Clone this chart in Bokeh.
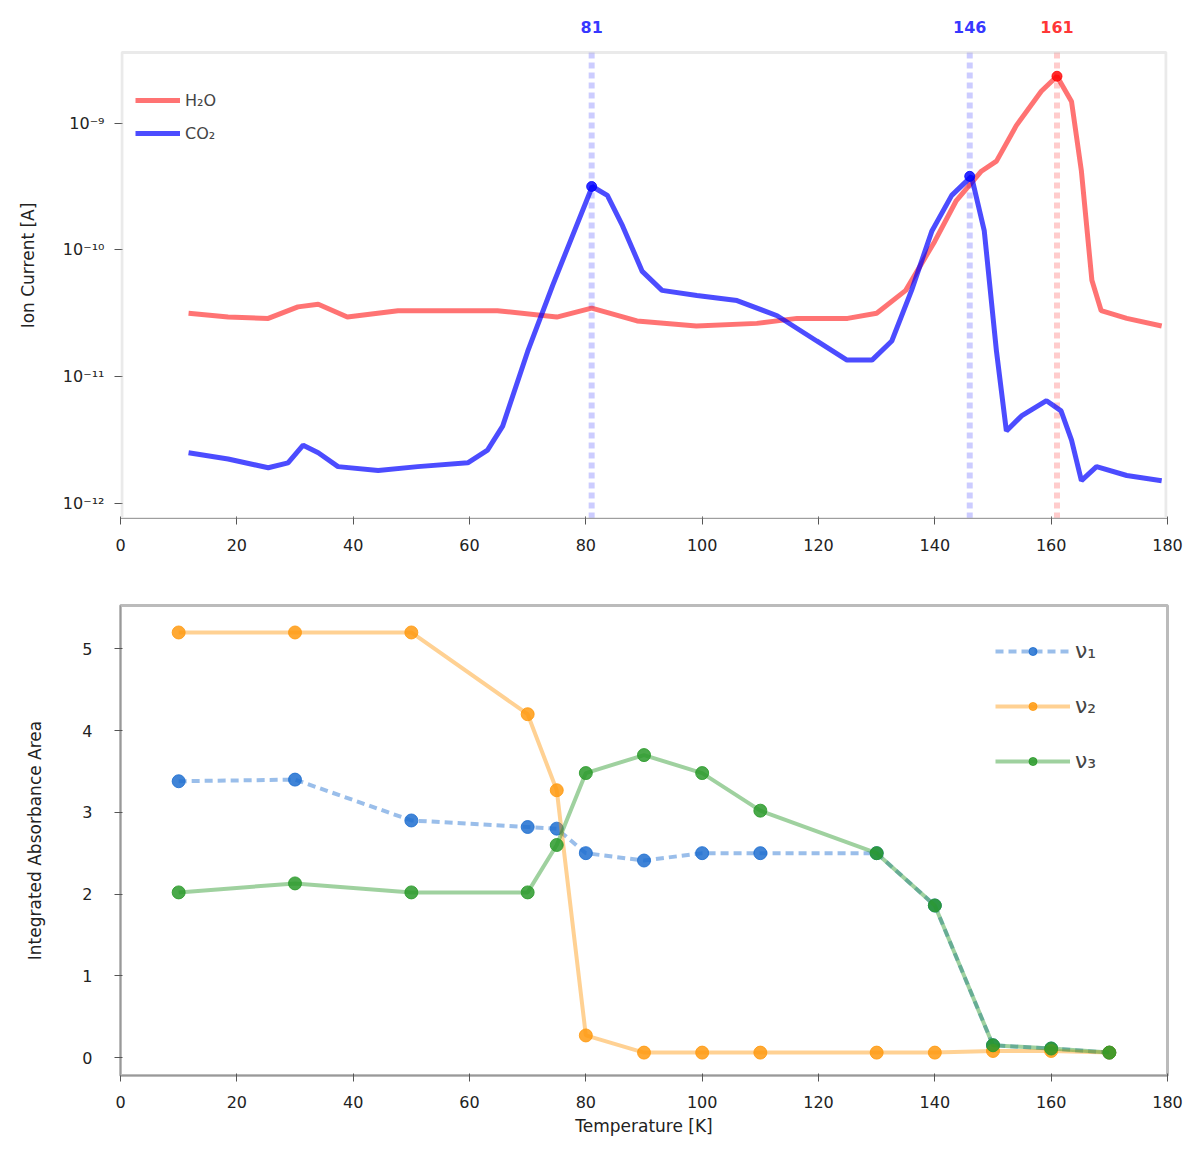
from bokeh.plotting import figure
from bokeh.layouts import column
from bokeh.models import (FixedTicker, CustomJSTickFormatter, Range1d, Legend, LegendItem,
                          BoxAnnotation, ColumnDataSource)
from bokeh.core.properties import value
from bokeh.embed import file_html
from bokeh.resources import INLINE

# ---------------- top panel data (TPD) ----------------
T_h2o = [11.7, 18.5, 25.4, 30.5, 34.0, 39.0, 47.7, 64.8, 75.0, 81.0, 88.8, 99.0, 109.4, 116.3,
         125.0, 130.0, 135.0, 140.0, 143.7, 148.0, 150.6, 154.0, 158.3, 161.0, 163.5, 165.2,
         167.0, 168.6, 173.0, 179.0]
I_h2o = [3.16e-11, 2.95e-11, 2.88e-11, 3.55e-11, 3.72e-11, 2.95e-11, 3.31e-11, 3.31e-11, 2.95e-11,
         3.47e-11, 2.75e-11, 2.51e-11, 2.63e-11, 2.88e-11, 2.88e-11, 3.16e-11, 4.79e-11, 1.17e-10,
         2.45e-10, 4.17e-10, 5.01e-10, 9.55e-10, 1.78e-9, 2.34e-9, 1.48e-9, 4.17e-10, 5.75e-11,
         3.31e-11, 2.88e-11, 2.51e-11]

T_co2 = [11.7, 18.5, 25.4, 28.8, 31.4, 34.0, 37.4, 44.3, 51.1, 59.7, 63.1, 65.7, 70.0, 74.3, 77.7,
         81.1, 83.7, 86.3, 89.7, 93.1, 99.1, 106.0, 112.9, 119.7, 124.9, 129.2, 132.6, 136.0,
         139.5, 142.9, 146.3, 148.5, 150.6, 152.3, 154.9, 159.2, 161.7, 163.5, 165.2, 167.8,
         173.0, 179.0]
I_co2 = [2.51e-12, 2.24e-12, 1.91e-12, 2.09e-12, 2.88e-12, 2.51e-12, 1.95e-12, 1.82e-12, 1.95e-12,
         2.09e-12, 2.63e-12, 4.07e-12, 1.58e-11, 5.25e-11, 1.29e-10, 3.16e-10, 2.69e-10, 1.55e-10,
         6.76e-11, 4.79e-11, 4.37e-11, 3.98e-11, 3.02e-11, 1.91e-11, 1.35e-11, 1.35e-11, 1.91e-11,
         4.79e-11, 1.41e-10, 2.69e-10, 3.80e-10, 1.41e-10, 1.58e-11, 3.72e-12, 4.90e-12, 6.46e-12,
         5.37e-12, 3.16e-12, 1.51e-12, 1.95e-12, 1.66e-12, 1.51e-12]

peak_T = [81, 146, 161]
peak_labels = ["81", "146", "161"]
peak_I = [3.16e-10, 3.80e-10, 2.34e-9]
peak_colors = ["blue", "blue", "red"]
label_I = [5.7e-9, 5.7e-9, 5.7e-9]

# ---------------- bottom panel data ----------------
T_ir = [10, 30, 50, 70, 75, 80, 90, 100, 110, 130, 140, 150, 160, 170]
A1 = [3.38, 3.40, 2.90, 2.82, 2.80, 2.50, 2.41, 2.50, 2.50, 2.50, 1.86, 0.15, 0.11, 0.06]
A2 = [5.20, 5.20, 5.20, 4.20, 3.27, 0.27, 0.06, 0.06, 0.06, 0.06, 0.06, 0.08, 0.08, 0.06]
A3 = [2.02, 2.13, 2.02, 2.02, 2.60, 3.48, 3.70, 3.48, 3.02, 2.50, 1.86, 0.15, 0.11, 0.06]
ir_labels = ["ν₁", "ν₂", "ν₃"]

x_ticks = [0, 20, 40, 60, 80, 100, 120, 140, 160, 180]
FONT = "DejaVu Sans"
W = 1184

def style(p):
    p.background_fill_color = "white"
    p.border_fill_color = "white"
    p.xgrid.visible = False
    p.ygrid.visible = False
    for ax in (p.xaxis, p.yaxis):
        ax.axis_line_color = "#999999"
        ax.major_tick_line_color = "#555555"
        ax.minor_tick_line_color = None
        ax.major_label_text_font = FONT
        ax.major_label_text_font_size = "16px"
        ax.major_label_text_color = "#222222"
        ax.axis_label_text_font = FONT
        ax.axis_label_text_font_size = "17px"
        ax.axis_label_text_font_style = "normal"
        ax.axis_label_text_color = "#222222"
    p.xaxis.ticker = FixedTicker(ticks=x_ticks)
    p.xaxis.major_label_standoff = 14

# ---------------- top figure ----------------
Y_LO, Y_HI, Y_TOP = 7.6e-13, 3.6e-9, 7.45e-9
p1 = figure(width=W, height=568, y_axis_type="log", output_backend="svg", toolbar_location=None,
            x_range=Range1d(0, 180), y_range=Range1d(Y_LO, Y_TOP),
            min_border_left=120, min_border_right=17, min_border_top=12, min_border_bottom=50)
style(p1)
p1.outline_line_color = None
p1.yaxis.axis_line_color = None
p1.yaxis.ticker = FixedTicker(ticks=[1e-12, 1e-11, 1e-10, 1e-9])
p1.yaxis.formatter = CustomJSTickFormatter(code="""
const sup = {'-':'\u207b','0':'\u2070','1':'\u00b9','2':'\u00b2','3':'\u00b3','4':'\u2074',
             '5':'\u2075','6':'\u2076','7':'\u2077','8':'\u2078','9':'\u2079'};
const e = Math.round(Math.log10(tick));
return '10' + String(e).split('').map(c => sup[c]).join('');
""")
p1.yaxis.axis_label = "Ion Current [A]"
p1.yaxis.axis_label_standoff = 22
p1.yaxis.major_label_standoff = 10

# frame of the data area (leaves room above for the peak labels)
p1.add_layout(BoxAnnotation(left=0.25, right=179.75, bottom=Y_LO, top=Y_HI, fill_alpha=0,
                            line_color="#bbbbbb", line_width=3))

for t, c in zip(peak_T, peak_colors):
    p1.segment(x0=[t], y0=[Y_LO], x1=[t], y1=[Y_HI], line_color=c, line_alpha=0.2,
               line_width=6, line_dash="6 4")

r_h2o = p1.line(T_h2o, I_h2o, line_color="red", line_alpha=0.55, line_width=5)
r_co2 = p1.line(T_co2, I_co2, line_color="blue", line_alpha=0.7, line_width=5)
p1.scatter(peak_T, peak_I, size=10, color=peak_colors, alpha=0.8)

src_lab = ColumnDataSource(dict(x=peak_T, y=label_I, t=peak_labels, c=peak_colors))
p1.text(x="x", y="y", text="t", text_color="c", source=src_lab, text_align="center",
        text_baseline="middle", text_font=value(FONT), text_font_size="16px",
        text_font_style="bold", text_alpha=0.8)

leg1 = Legend(items=[LegendItem(label="H₂O", renderers=[r_h2o]),
                     LegendItem(label="CO₂", renderers=[r_co2])],
              location=(15, 375), label_text_font=FONT, label_text_font_size="16px",
              border_line_color=None, background_fill_alpha=0.0, glyph_width=45,
              spacing=13, margin=0, padding=10)
p1.add_layout(leg1)

# ---------------- bottom figure ----------------
p2 = figure(width=W, height=592, output_backend="svg", toolbar_location=None,
            x_range=Range1d(0, 180), y_range=Range1d(-0.22, 5.53),
            min_border_left=120, min_border_right=17, min_border_top=37, min_border_bottom=85)
style(p2)
p2.outline_line_color = "#bbbbbb"
p2.outline_line_width = 3
p2.yaxis.ticker = FixedTicker(ticks=[0, 1, 2, 3, 4, 5])
p2.yaxis.major_label_standoff = 22
p2.yaxis.axis_label_standoff = 34
p2.xaxis.axis_label = "Temperature [K]"
p2.yaxis.axis_label = "Integrated Absorbance Area"

cols = ["#1f6fd0", "#ff9a10", "#2a9a2a"]
dashes = ["8 5", "solid", "solid"]
items = []
for A, c, d, lab in zip([A1, A2, A3], cols, dashes, ir_labels):
    rl = p2.line(T_ir, A, line_color=c, line_alpha=0.45, line_width=4, line_dash=d)
    rs = p2.scatter(T_ir, A, size=13, color=c, alpha=0.85)
    items.append(LegendItem(label=lab, renderers=[rl, rs]))

leg2 = Legend(items=items, location=(875, 302), label_text_font=FONT, label_text_font_size="22px",
              border_line_color=None, background_fill_alpha=0.0, glyph_width=75,
              spacing=30, margin=0, padding=10)
p2.add_layout(leg2)

layout = column(p1, p2, spacing=0)
open("out.html", "w").write(file_html(layout, INLINE))
